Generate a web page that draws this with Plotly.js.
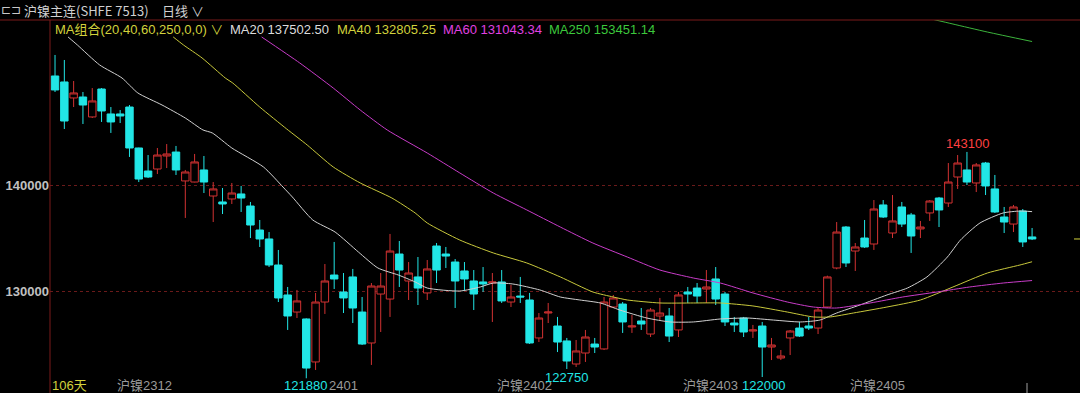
<!DOCTYPE html>
<html>
<head>
<meta charset="utf-8">
<script src="https://cdn.plot.ly/plotly-3.0.1.min.js"></script>
<style>html,body{margin:0;padding:0;background:#000;}#chart{width:1080px;height:393px;}</style>
</head>
<body>
<div id="chart"></div>
<script>
// ---- Data ----
const openP  = [150220,149660,148160,148250,146380,149000,146660,146660,147310,143470,
                141310,141500,142720,143090,140380,140280,141410,138970,138410,138690,
                139160,138030,135780,134940,132500,129690,128090,127440,123410,129030,
                131560,129970,131380,128090,125190,129780,129310,133530,131000,131380,
                129880,134280,133530,132780,131940,131000,130910,130810,130910,129030,
                129590,129220,125660,128000,126780,125380,123220,124250,125090,124630,
                128560,128840,126690,127250,126030,127720,127720,126410,129970,130340,
                130250,131190,129780,127060,127530,126310,126780,124810,123780,125660,
                126590,126780,126590,128560,132220,136060,133810,135030,134470,138130,
                135500,137940,137190,135880,137380,138780,138310,140750,141410,140190,
                142060,139630,137000,136340,137560,135130];
const highP  = [152190,151720,149750,148720,149090,149090,147310,147030,147500,143500,
                142810,143470,143840,143660,141410,142910,142720,140280,139720,140190,
                139910,138410,136720,135590,133910,130440,130160,127500,129880,132590,
                134660,131750,132130,129500,130810,131750,135410,134750,132780,133250,
                132970,134560,134190,133060,132780,132030,132310,131750,132030,130630,
                131380,129880,128000,128940,127630,125660,125470,126410,125660,129500,
                129690,129030,127810,128470,128470,129410,128470,129970,130440,130810,
                132030,132310,129970,127630,127630,126880,127160,125660,124530,126410,
                127160,127630,128560,131500,136530,136150,134560,136720,138590,138590,
                139060,138410,137380,136630,138590,138880,142060,142810,143100,142060,
                142160,140940,137940,138130,137750,135970];
const lowP   = [148720,145250,147310,145720,146280,145910,144880,145810,142630,140280,
                140660,141030,141590,140940,136910,140250,139250,136530,137280,138220,
                137470,135030,134190,132310,129030,126410,127530,121880,122660,127910,
                130250,128000,127060,125000,123130,126220,127630,130440,129220,128750,
                129220,130810,132220,128470,130060,128280,129970,127160,128940,128560,
                128940,125100,125280,127060,124340,122750,122940,123410,124250,124530,
                128470,126130,126130,126410,125750,127340,125280,125750,128940,128940,
                128940,128750,126780,126220,125750,125660,122000,123590,123590,124060,
                125750,126410,126030,128500,132100,132310,131940,134100,133910,136910,
                135030,136060,133630,135030,136630,136060,137940,139630,140000,139340,
                139060,137380,135500,135590,134190,134840];
const closeP = [148910,146000,148630,147500,147880,146940,145910,146470,143470,140560,
                140750,142810,142910,141410,141220,142160,140280,139630,138220,139250,
                138780,136250,134940,132500,129410,127720,129130,122840,129030,131000,
                131190,129410,128470,125090,130530,130530,133810,132030,131750,130340,
                132130,132030,133340,131000,131190,129780,130720,130910,129130,129500,
                129500,125190,127530,128090,125280,123500,124440,125750,124810,129030,
                129410,127160,126780,126970,128280,128000,125840,129690,129780,129590,
                130440,129310,127160,126880,126220,126410,124810,125000,123970,126310,
                125840,126590,128280,131380,135590,132690,134190,134190,137750,137000,
                136630,136340,135220,136060,138500,137660,140280,142060,140280,141880,
                139910,137470,136530,137940,134660,134940];

// moving-average lines, sampled along the picture (x = candle index)
const ma20X  = [1.4,2.4,4.8,7.2,8.9,11.5,14,15.9,16.9,19,22.4,24.5,25.5,27.7,30.1,32.6,34.7,36.9,38.7,40,
                43.5,45.7,47.1,49.2,52.1,54.3,56.4,58.6,60.7,63.6,66.1,68.6,71.5,74.4,77.2,80.1,82.2,84,86.5,
                89.4,91.6,93.7,95.9,97.3,99.4,101.9,103.7,105];
const ma20V  = [153880,153130,151250,150030,148630,147500,146280,145160,144880,143470,141690,139810,138880,
                136720,135590,133720,132220,131560,130910,130340,130060,130440,130810,130720,130160,129500,
                129220,128940,128280,127530,127160,127160,127440,127530,127340,127160,127340,128000,128750,
                129690,130340,131380,133250,134840,136440,137380,137560,137502.5];
const ma40X  = [12.7,13.8,15.8,18.3,19.1,22,24.9,27.1,29.9,32.8,36.2,38.7,40,43.5,47.1,50.7,54.3,57.8,60,61.5,
                65,68.6,71.5,75,78.7,81.5,83.3,85.8,89.4,93,96.5,100.2,103.7,105];
const ma40V  = [153880,153130,151910,150030,149560,147310,145250,143750,141690,140190,138780,137380,136440,
                134840,133630,132690,131380,129970,129500,129220,128940,128940,128940,128660,128090,127630,
                127630,128000,128560,129220,130440,131750,132500,132805.25];
const ma60X  = [22.2,26.3,29.9,32.8,35.7,40,43.5,47.1,50.7,54.3,57.8,61.5,65,68.6,71.5,75,78.7,81.5,84,87.6,
                91.1,94.8,98.3,101.9,105];
const ma60V  = [153880,151440,149090,147030,145160,143000,141130,139250,137660,136060,134560,133250,132030,
                131280,130810,129880,129030,128560,128470,128940,129500,129970,130440,130810,131043.34];
const ma250X = [94.2,96.5,100.2,105];
const ma250V = [155560,155090,154340,153451.14];

const yTicks = [130000, 140000];
const maLegend = [
  {text:'MA20 137502.50', color:'#dcdcdc', px:229},
  {text:'MA40 132805.25', color:'#d2d23c', px:336},
  {text:'MA60 131043.34', color:'#e040e0', px:442},
  {text:'MA250 153451.14', color:'#3cc83c', px:548}
];
// month labels as they are visible (the 2401 prefix is hidden under the 121880 mark in the reference)
const monthLabels = [
  {text:'沪镍2312', px:116}, {text:'2401', px:328}, {text:'沪镍2402', px:496},
  {text:'沪镍2403', px:682}, {text:'沪镍2405', px:849}
];
const extremes = [
  {text:'143100', color:'#ff4040', cx:967, cy:143},
  {text:'121880', color:'#22e6e6', cx:305, cy:385},
  {text:'122750', color:'#22e6e6', cx:566, cy:377},
  {text:'122000', color:'#22e6e6', cx:763, cy:385}
];

// ---- Layout helpers (pixel -> paper) ----
const PL = 50, PW = 1030, PT = 20, PB = 380, PH = PB - PT;
const px = v => (v - PL) / PW;
const py = v => (PB - v) / PH;
const FONT = 'Liberation Sans, Noto Sans CJK SC, sans-serif';
const CJK = 'Noto Sans CJK SC, Liberation Sans, sans-serif';

const idx = openP.map((_, i) => i);

const traces = [
  {
    type:'candlestick', x: idx, open: openP, high: highP, low: lowP, close: closeP,
    increasing:{line:{color:'#d23232', width:1}, fillcolor:'#000'},
    decreasing:{line:{color:'#22e6e6', width:1}, fillcolor:'#22e6e6'},
    whiskerwidth:0, hoverinfo:'skip', showlegend:false
  },
  {type:'scatter', mode:'lines', x:ma20X, y:ma20V, line:{color:'#d0d0d0', width:1, shape:'spline', smoothing:0.6}, hoverinfo:'skip', showlegend:false},
  {type:'scatter', mode:'lines', x:ma40X, y:ma40V, line:{color:'#c8c83c', width:1, shape:'spline', smoothing:0.6}, hoverinfo:'skip', showlegend:false},
  {type:'scatter', mode:'lines', x:ma60X, y:ma60V, line:{color:'#c83cc8', width:1, shape:'spline', smoothing:0.6}, hoverinfo:'skip', showlegend:false},
  {type:'scatter', mode:'lines', x:ma250X, y:ma250V, line:{color:'#3cb43c', width:1, shape:'spline', smoothing:0.6}, hoverinfo:'skip', showlegend:false}
];

const ann = [];
const A = (o) => ann.push(Object.assign({xref:'paper', yref:'paper', showarrow:false, xanchor:'left', yanchor:'middle', borderpad:0}, o));
// header
A({x:px(0), y:py(10), text:'⊏⊐', font:{family:FONT, size:12, color:'#c8c8c8'}});
A({x:px(23), y:py(10), text:'沪镍主连(SHFE 7513)', font:{family:CJK, size:13, color:'#d0d0d0'}});
A({x:px(161), y:py(10), text:'日线 ∨', font:{family:CJK, size:13, color:'#d0d0d0'}});
// MA legend row
A({x:px(54), y:py(29), text:'MA组合(20,40,60,250,0,0) ∨', font:{family:FONT, size:13, color:'#d2d23c'}});
maLegend.forEach(m => A({x:px(m.px), y:py(29), text:m.text, font:{family:FONT, size:13, color:m.color}}));
// bottom row
A({x:px(51), y:py(385), text:'106天', font:{family:FONT, size:13, color:'#d2d23c'}});
monthLabels.forEach(m => A({x:px(m.px), y:py(385), text:m.text, font:{family:FONT, size:13, color:'#9a9a9a'}}));
extremes.forEach(e => A({x:px(e.cx), y:py(e.cy), xanchor:'center', text:e.text, font:{family:FONT, size:13, color:e.color}}));

const shapes = [
  {type:'line', xref:'paper', yref:'paper', x0:px(0), x1:1, y0:1, y1:1, line:{color:'#7a1a1a', width:1}},
  {type:'line', xref:'paper', yref:'paper', x0:0, x1:0, y0:py(393), y1:1, line:{color:'#7a1a1a', width:1}},
  {type:'line', xref:'paper', yref:'y', x0:px(1074), x1:1, y0:closeP[closeP.length-1], y1:closeP[closeP.length-1], line:{color:'#d2d23c', width:1}},
  {type:'line', xref:'paper', yref:'paper', x0:px(1027), x1:px(1027), y0:py(393), y1:py(383), line:{color:'#a0a0a0', width:1}}
];

const layout = {
  width:1080, height:393,
  margin:{l:PL, r:0, t:PT, b:393-PB, pad:0},
  paper_bgcolor:'#000', plot_bgcolor:'#000',
  showlegend:false, hovermode:false,
  boxgap:0.2, boxgroupgap:0,
  xaxis:{type:'linear', range:[-0.54, 110.15], showgrid:false, zeroline:false, showticklabels:false,
         ticks:'', showline:false, rangeslider:{visible:false}, fixedrange:true},
  yaxis:{range:[121719, 155469], tickvals:yTicks, ticktext:yTicks.map(String), showgrid:true,
         gridcolor:'#6a1a1a', griddash:'dot', gridwidth:1, zeroline:false, showline:false, ticks:'',
         tickfont:{family:FONT, size:13, color:'#c0c0c0', weight:'bold'}, fixedrange:true},
  annotations: ann,
  shapes: shapes
};

Plotly.newPlot('chart', traces, layout, {displayModeBar:false, staticPlot:true});
</script>
</body>
</html>
